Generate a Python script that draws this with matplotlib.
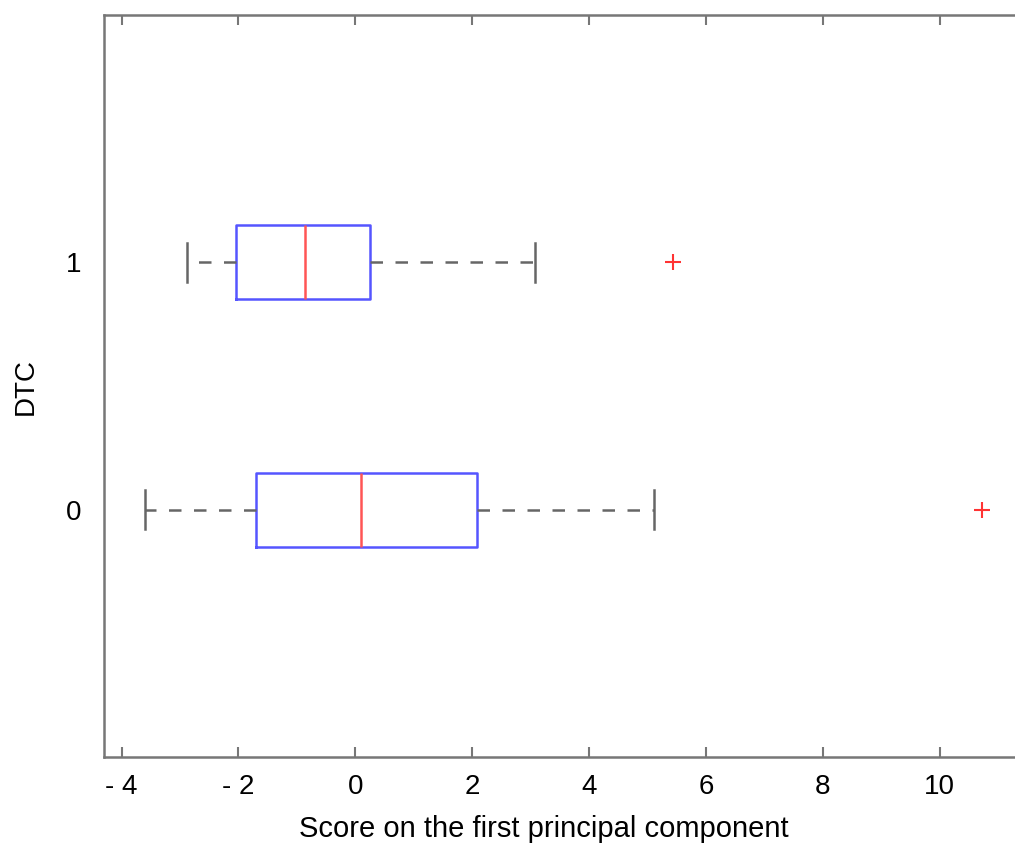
import matplotlib
matplotlib.use('Agg')
import matplotlib.pyplot as plt

# box plot stats (score on first PC)
groups = ['0', '1']
positions = [0, 1]
whislo = [-3.60, -2.885]
q1 = [-1.70, -2.04]
med = [0.106, -0.86]
q3 = [2.08, 0.25]
whishi = [5.12, 3.07]
fliers = [[10.73], [5.44]]

xticks = [-4, -2, 0, 2, 4, 6, 8, 10]
xticklabels = ['- 4', '- 2', '0', '2', '4', '6', '8', '10']

plt.rcParams['font.family'] = ['Liberation Sans', 'DejaVu Sans']

fig = plt.figure(figsize=(10.15, 8.48), dpi=100)
ax = fig.add_axes([0.1025, 0.1073, 0.8975, 0.875])

stats = []
for i in range(len(groups)):
    stats.append(dict(whislo=whislo[i], q1=q1[i], med=med[i], q3=q3[i],
                      whishi=whishi[i], fliers=fliers[i], label=groups[i]))

ax.bxp(stats, positions=positions, vert=False, widths=0.3,
       boxprops=dict(color='#5555ff', linewidth=1.8),
       medianprops=dict(color='#ff5555', linewidth=1.8),
       whiskerprops=dict(color='#666666', linewidth=1.8, linestyle=(0, (5, 5))),
       capprops=dict(color='#666666', linewidth=1.8),
       capwidths=0.16,
       flierprops=dict(marker='+', markeredgecolor='#ff3333', markersize=12,
                       markeredgewidth=1.5))

ax.set_xlim(-4.30, 11.29)
ax.set_ylim(-1.0, 2.0)
ax.set_xticks(xticks)
ax.set_xticklabels(xticklabels)
ax.set_yticks(positions)
ax.set_yticklabels(groups)

for s in ['left', 'bottom', 'top']:
    ax.spines[s].set_color('#777777')
    ax.spines[s].set_linewidth(1.8)
ax.spines['right'].set_visible(False)
ax.tick_params(direction='in', top=True, length=7, width=1.5, color='#777777',
               labelsize=20, pad=12)
ax.tick_params(axis='y', length=0, pad=16)

ax.set_xlabel('Score on the first principal component', fontsize=21)
ax.set_ylabel('DTC', fontsize=20)
ax.xaxis.set_label_coords(0.483, -0.078)
ax.yaxis.set_label_coords(-0.0714, 0.5)

fig.savefig('out.png', dpi=100)
